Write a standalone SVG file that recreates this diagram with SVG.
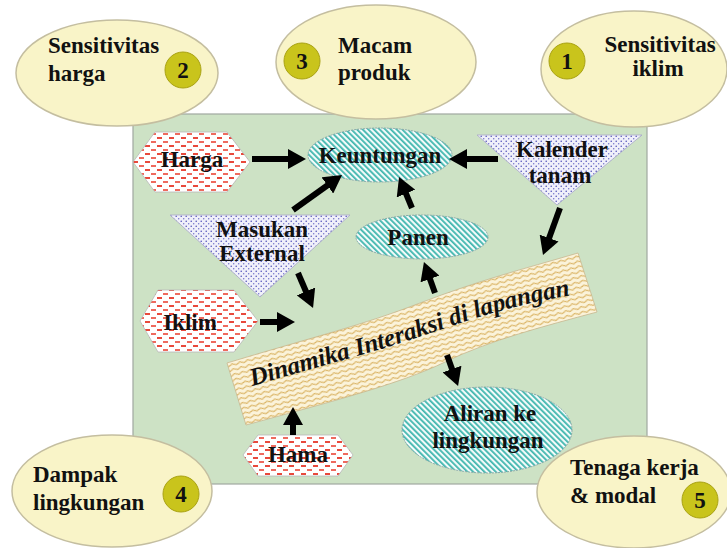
<svg xmlns="http://www.w3.org/2000/svg" width="727" height="548" viewBox="0 0 727 548">
<style>
.t{font-family:"Liberation Serif","Times New Roman",serif;font-weight:bold;font-size:23px;fill:#111}
.m{text-anchor:middle}
.outer{fill:#f9f4c8;stroke:#c4bea0;stroke-width:1.5}
.num{fill:#c9c41c;stroke:#a9a214;stroke-width:1}
.hex{fill:url(#redDash);stroke:#b8b8b8;stroke-width:0.8}
.tri{fill:url(#dots);stroke:#a8a8c8;stroke-width:0.8}
.oval{fill:url(#teal);stroke:#8aa8a8;stroke-width:1;stroke-dasharray:2 1}
.arr{stroke:#000;stroke-width:6;fill:none;marker-end:url(#ah)}
</style>
<defs>
<pattern id="redDash" width="12" height="8" patternUnits="userSpaceOnUse">
<rect width="12" height="8" fill="#fff"/>
<rect x="1" y="1" width="5" height="2" fill="#e8493c"/>
<rect x="7" y="5" width="5" height="2" fill="#ee6a5e"/>
</pattern>
<pattern id="teal" width="4" height="4" patternUnits="userSpaceOnUse" patternTransform="rotate(-45)">
<rect width="4" height="4" fill="#f4fbfa"/>
<rect width="1.8" height="4" fill="#3fb6ae"/>
</pattern>
<pattern id="dots" width="5" height="5" patternUnits="userSpaceOnUse">
<rect width="5" height="5" fill="#f0f0fa"/>
<circle cx="1.2" cy="1.2" r="0.75" fill="#4646b4"/>
<circle cx="3.7" cy="3.7" r="0.75" fill="#7272cc"/>
</pattern>
<pattern id="wave" width="8" height="5" patternUnits="userSpaceOnUse" patternTransform="rotate(-15)">
<rect width="8" height="5" fill="#fbf3da"/>
<path d="M0,2.5 Q2,0.6 4,2.5 T8,2.5" fill="none" stroke="#d2a446" stroke-width="1"/>
</pattern>
<marker id="ah" markerUnits="userSpaceOnUse" markerWidth="20" markerHeight="20" refX="8" refY="10" orient="auto">
<path d="M0,0 L18,10 L0,20 z" fill="#000"/>
</marker>
<path id="dynPath" d="M252,386 C320,366 372,353 422,336 S520,302 592,292"/>
</defs>

<rect id="field" x="133" y="114" width="514" height="370" fill="#cde2c5" stroke="#a0a8a0" stroke-width="1.2"/>

<g id="sens-harga">
<ellipse class="outer" cx="117" cy="73" rx="101" ry="53"/>
<text class="t" x="48" y="53">Sensitivitas</text>
<text class="t" x="48" y="81">harga</text>
<circle class="num" cx="183" cy="70" r="18"/>
<text class="t m" x="183" y="78">2</text>
</g>
<g id="macam-produk">
<ellipse class="outer" cx="376" cy="62" rx="100" ry="57"/>
<circle class="num" cx="302" cy="61" r="18"/>
<text class="t m" x="302" y="69">3</text>
<text class="t" x="338" y="53">Macam</text>
<text class="t" x="338" y="80">produk</text>
</g>
<g id="sens-iklim">
<ellipse class="outer" cx="634" cy="69" rx="93" ry="58"/>
<circle class="num" cx="567" cy="61" r="18"/>
<text class="t m" x="567" y="69">1</text>
<text class="t m" x="660" y="52">Sensitivitas</text>
<text class="t m" x="658" y="76">iklim</text>
</g>
<g id="dampak">
<ellipse class="outer" cx="112" cy="491" rx="100" ry="56"/>
<text class="t" x="33" y="482">Dampak</text>
<text class="t" x="33" y="510">lingkungan</text>
<circle class="num" cx="181" cy="494" r="18"/>
<text class="t m" x="181" y="502">4</text>
</g>
<g id="tenaga">
<ellipse class="outer" cx="634" cy="492" rx="97" ry="56"/>
<text class="t" x="570" y="475">Tenaga kerja</text>
<text class="t" x="570" y="503">&amp; modal</text>
<circle class="num" cx="700" cy="500" r="18"/>
<text class="t m" x="700" y="508">5</text>
</g>

<g id="harga">
<polygon class="hex" points="133,162 155,132 227,132 250,162 227,192 155,192"/>
<text class="t m" x="192" y="167">Harga</text>
</g>
<g id="keuntungan">
<ellipse class="oval" cx="380" cy="155" rx="72" ry="27"/>
<text class="t m" x="380" y="163">Keuntungan</text>
</g>
<g id="kalender">
<polygon class="tri" points="477,135 642,135 557,205"/>
<text class="t m" x="562" y="157">Kalender</text>
<text class="t m" x="560" y="183">tanam</text>
</g>
<g id="masukan">
<polygon class="tri" points="170,215 350,215 260,297"/>
<text class="t m" x="262" y="237">Masukan</text>
<text class="t m" x="262" y="261">External</text>
</g>
<g id="panen">
<ellipse class="oval" cx="422" cy="237" rx="66" ry="22"/>
<text class="t m" x="418" y="245">Panen</text>
</g>
<g id="iklim">
<polygon class="hex" points="140,321 158,290 234,290 258,321 234,352 158,352"/>
<text class="t m" x="190" y="330">Iklim</text>
</g>
<g id="dinamika">
<path d="M227,363 C320,335 360,326 420,303 S520,270 578,253 L597,312 C545,326 490,340 445,362 S330,402 246,425 Z" fill="url(#wave)" stroke="#c8b890" stroke-width="0.8"/>
<text class="t" style="font-style:italic;font-size:25px"><textPath href="#dynPath">Dinamika Interaksi di lapangan</textPath></text>
</g>
<g id="hama">
<polygon class="hex" points="243,455 258,435 338,435 353,455 338,476 258,476"/>
<text class="t m" x="298" y="462">Hama</text>
</g>
<g id="aliran">
<ellipse class="oval" cx="487" cy="430" rx="85" ry="43"/>
<text class="t m" x="490" y="421">Aliran ke</text>
<text class="t m" x="488" y="448">lingkungan</text>
</g>

<g id="connectors">
<line class="arr" x1="252" y1="159" x2="296" y2="159"/>
<line class="arr" x1="498" y1="159" x2="459" y2="159"/>
<line class="arr" x1="293" y1="210" x2="333.9" y2="180.8"/>
<line class="arr" x1="412" y1="208" x2="402.9" y2="186.2"/>
<line class="arr" x1="560" y1="208" x2="546.4" y2="245.6"/>
<line class="arr" x1="298" y1="273" x2="309.1" y2="298.8"/>
<line class="arr" x1="260" y1="322" x2="285" y2="322"/>
<line class="arr" x1="435" y1="293" x2="427.3" y2="271.4"/>
<line class="arr" x1="293" y1="435" x2="293" y2="417"/>
<line class="arr" x1="447" y1="355" x2="454.7" y2="376.6"/>
</g>
</svg>
